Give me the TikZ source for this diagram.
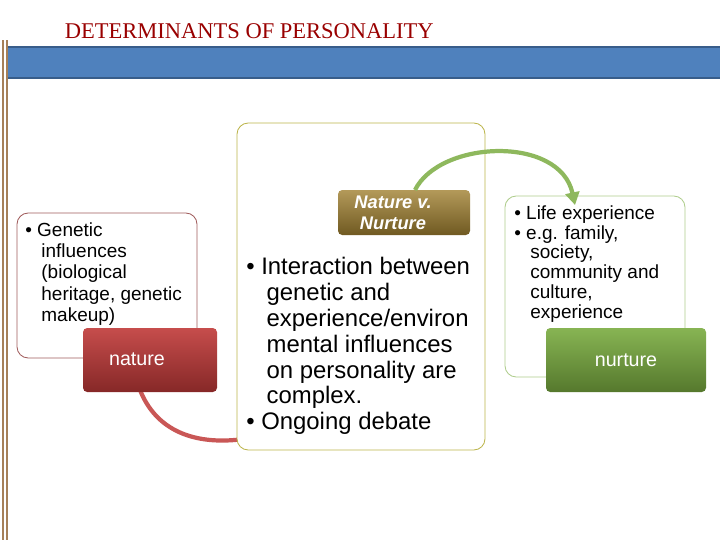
\documentclass[tikz,border=0pt]{standalone}
\usepackage{fontspec}
\setmainfont{Liberation Sans}
\newfontfamily\titlefont{Liberation Serif}
\usetikzlibrary{arrows.meta}
\definecolor{barblue}{RGB}{79,129,189}
\definecolor{bardark}{RGB}{56,93,138}
\definecolor{natred}{RGB}{192,57,56}
\definecolor{nurgreen}{RGB}{122,172,64}
\definecolor{gold}{RGB}{160,128,48}
\begin{document}
\begin{tikzpicture}[x=0.025cm,y=-0.025cm,
    outerbox/.style={draw=#1, line width=0.6pt, rounded corners=8pt, fill=white},
    tagbox/.style={rounded corners=3pt, text=white, align=center},
    bullets/.style={align=left, anchor=north west, inner sep=0pt}]
    \useasboundingbox (0,0) rectangle (720,540);
    % Title and bar
    \node[anchor=west, text=red!60!black, font=\titlefont\fontsize{16}{20}\selectfont] (title) at (60,31) {DETERMINANTS OF PERSONALITY};
    \fill[barblue] (8,47) rectangle (720,78);
    \draw[bardark, line width=1.2pt] (8,47) -- (720,47) (8,78) -- (720,78);
    \draw[brown!60!gray, line width=0.8pt] (3,40) -- (3,540) (7,40) -- (7,540);
    
    % Red arc (behind)
    \draw[natred!85, line width=3pt] (140,390) .. controls (160,440) and (210,445) .. (250,438);
    
    % Left box
    \draw[outerbox=natred!50!gray] (17,213) rectangle (197,358);
    \node[bullets, font=\fontsize{13.5}{15.2}\selectfont] (gen) at (25,222) {\textbullet\ Genetic\\ \hspace*{0.85em}influences\\ \hspace*{0.85em}(biological\\ \hspace*{0.85em}heritage, genetic\\ \hspace*{0.85em}makeup)};
    \shade[top color=natred!90, bottom color=natred!70!black, rounded corners=3pt] (83,328) rectangle (217,392);
    \node[text=white, font=\fontsize{14}{16}\selectfont] (nature) at (137,359) {nature};
    
    % Middle box
    \draw[outerbox=olive!60] (237,123) rectangle (485,450);
    \shade[top color=gold!80, bottom color=gold!70!black, rounded corners=3pt] (338,190) rectangle (470,235);
    \node[tagbox, font=\bfseries\itshape\fontsize{13}{15}\selectfont] (nvn) at (393,213) {Nature v.\\Nurture};
    \node[bullets, font=\fontsize{17}{18.4}\selectfont] (inter) at (246,257) {\textbullet\ Interaction between\\ \hspace*{0.85em}genetic and\\ \hspace*{0.85em}experience/environ\\ \hspace*{0.85em}mental influences\\ \hspace*{0.85em}on personality are\\ \hspace*{0.85em}complex.\\ \textbullet\ Ongoing debate};
    
    % Right box
    \draw[outerbox=nurgreen!60] (505,196) rectangle (685,377);
    \node[bullets, font=\fontsize{13.5}{14.2}\selectfont] (life) at (514,205) {\textbullet\ Life experience\\ \textbullet\ e.g. family,\\ \hspace*{0.85em}society,\\ \hspace*{0.85em}community and\\ \hspace*{0.85em}culture,\\ \hspace*{0.85em}experience};
    \shade[top color=nurgreen!90, bottom color=nurgreen!70!black, rounded corners=3pt] (546,328) rectangle (706,392);
    \node[text=white, font=\fontsize{14}{16}\selectfont] (nurture) at (626,360) {nurture};
    
    % Green arc
    \draw[nurgreen!85, line width=3pt, -{Triangle[length=9pt,width=10pt]}] (415,190) .. controls (440,140) and (560,135) .. (575,205);
\end{tikzpicture}
\end{document}
